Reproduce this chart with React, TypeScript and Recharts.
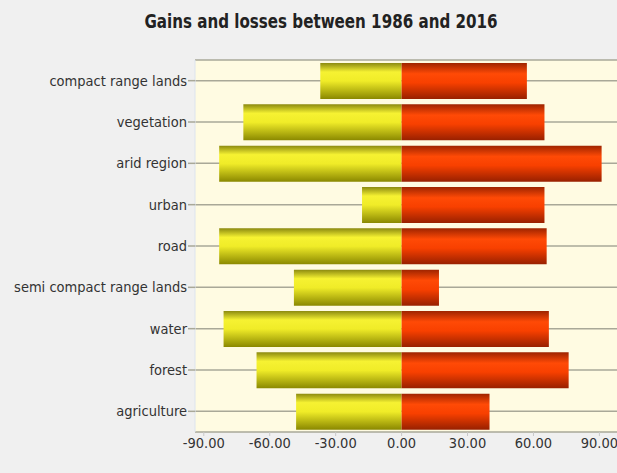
import { BarChart, Bar, XAxis, YAxis, CartesianGrid } from "recharts";

const categories = [
  "compact range lands",
  "vegetation",
  "arid region",
  "urban",
  "road",
  "semi compact range lands",
  "water",
  "forest",
  "agriculture",
];
const losses = [-37, -72, -83, -18, -83, -49, -81, -66, -48];
const gains = [57, 65, 91, 65, 66, 17, 67, 76, 40];
const xTicks = [-90, -60, -30, 0, 30, 60, 90];

const data = categories.map((name, i) => ({ name, loss: losses[i], gain: gains[i] }));

const font = "'Liberation Sans Narrow', 'DejaVu Sans Condensed', Arial, sans-serif";

export default function App() {
  return (
    <div style={{ position: "absolute", left: 0, top: 0, width: 617, height: 473, background: "#f0f0f0" }}>
      <div
        style={{
          position: "absolute",
          left: 0,
          top: 9,
          width: 642,
          textAlign: "center",
          fontFamily: font,
          fontWeight: "bold",
          fontSize: 20,
          color: "#222",
          transform: "scaleX(0.84)",
          transformOrigin: "321px 0",
        }}
      >
        Gains and losses between 1986 and 2016
      </div>
      <BarChart
        width={617}
        height={473}
        data={data}
        layout="vertical"
        stackOffset="sign"
        margin={{ top: 60, right: 0, bottom: 0, left: 0 }}
        barSize={36}
      >
        <defs>
          <linearGradient id="yellowGrad" x1="0" y1="0" x2="0" y2="1">
            <stop offset="0%" stopColor="#8c8a10" />
            <stop offset="25%" stopColor="#f6f232" />
            <stop offset="50%" stopColor="#f0ec28" />
            <stop offset="100%" stopColor="#8a8800" />
          </linearGradient>
          <linearGradient id="redGrad" x1="0" y1="0" x2="0" y2="1">
            <stop offset="0%" stopColor="#9e2400" />
            <stop offset="30%" stopColor="#ff4a06" />
            <stop offset="55%" stopColor="#f84000" />
            <stop offset="100%" stopColor="#982000" />
          </linearGradient>
        </defs>
        <CartesianGrid horizontal vertical={false} fill="#fffbe2" stroke="#a9a898" strokeWidth={1.5} />
        <XAxis
          type="number"
          domain={[-94, 98]}
          ticks={xTicks}
          allowDataOverflow
          height={41}
          axisLine={false}
          tickSize={4}
          tickLine={{ stroke: "#c8c8c8" }}
          tickFormatter={(v: number) => v.toFixed(2)}
          tick={{ fill: "#333", fontSize: 14.5, fontFamily: font }}
        />
        <XAxis
          xAxisId="top"
          orientation="top"
          type="number"
          domain={[-94, 98]}
          height={0}
          tick={false}
          tickLine={false}
          axisLine={{ stroke: "#a9a898", strokeWidth: 1.5 }}
        />
        <YAxis
          type="category"
          dataKey="name"
          width={195}
          axisLine={{ stroke: "#dde4ee" }}
          tickSize={7}
          tickMargin={1}
          tickLine={{ stroke: "#a9a898", strokeWidth: 1.5 }}
          tick={{ fill: "#333", fontSize: 14.5, fontFamily: font }}
        />
        <Bar dataKey="loss" stackId="a" fill="url(#yellowGrad)" isAnimationActive={false} />
        <Bar dataKey="gain" stackId="a" fill="url(#redGrad)" isAnimationActive={false} />
      </BarChart>
    </div>
  );
}
